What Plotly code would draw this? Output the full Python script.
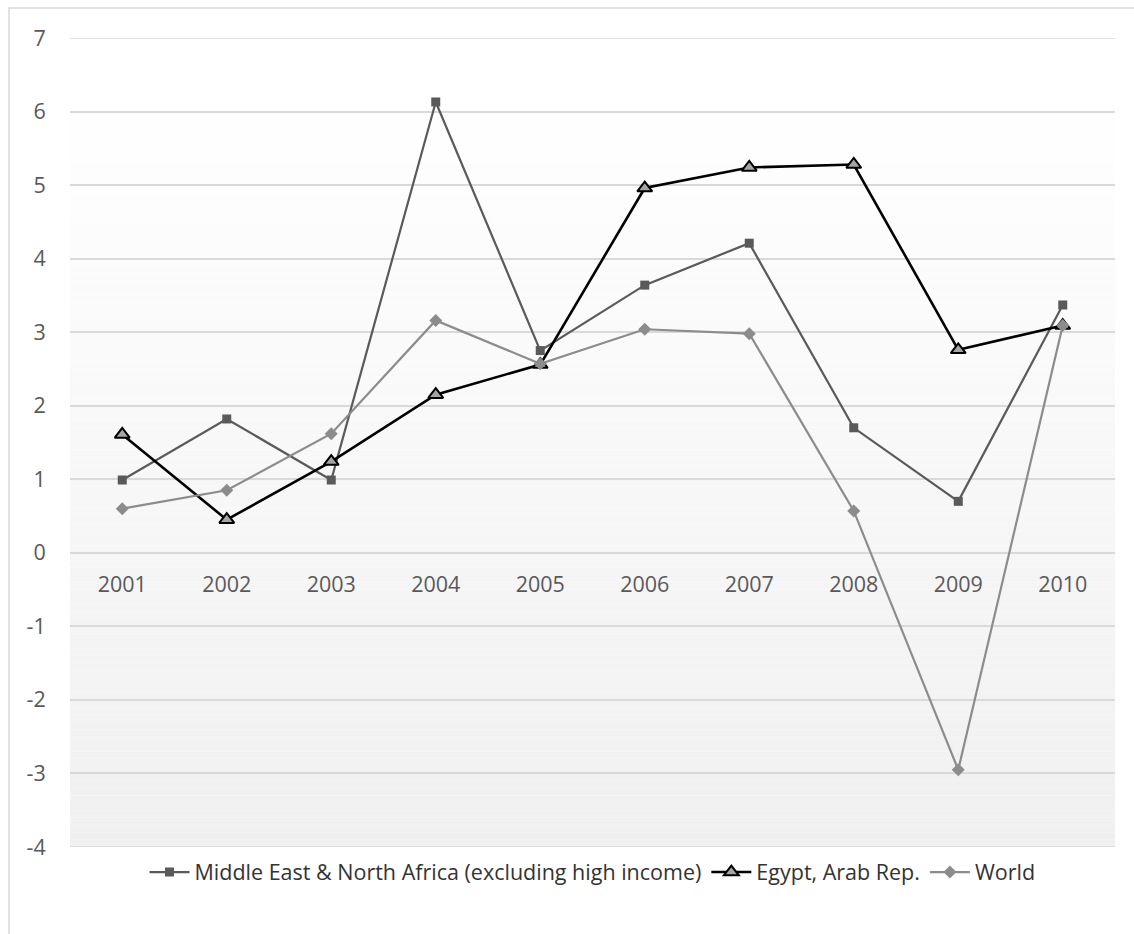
import plotly.graph_objects as go

# Annual growth figures, 2001-2010
years = ["2001", "2002", "2003", "2004", "2005", "2006", "2007", "2008", "2009", "2010"]
mena = [0.99, 1.82, 0.99, 6.13, 2.75, 3.64, 4.21, 1.70, 0.70, 3.37]
egypt = [1.61, 0.45, 1.24, 2.15, 2.56, 4.96, 5.24, 5.28, 2.76, 3.09]
world = [0.60, 0.85, 1.62, 3.16, 2.57, 3.04, 2.98, 0.57, -2.95, 3.09]

y_ticks = list(range(-4, 8))
y_tick_text = [str(v) for v in y_ticks]
y_min, y_max = -4, 7

FONT = "Open Sans"
GRID = "#d9d9d9"

fig = go.Figure()

fig.add_trace(go.Scatter(
    x=years, y=mena, mode="lines+markers",
    name="Middle East & North Africa (excluding high income)",
    line=dict(color="#5a5a5a", width=2.2),
    marker=dict(symbol="square", size=9, color="#5a5a5a"),
))
fig.add_trace(go.Scatter(
    x=years, y=egypt, mode="lines+markers",
    name="Egypt, Arab Rep.",
    line=dict(color="#000000", width=2.6),
    marker=dict(symbol="triangle-up", size=13, color="#a5a5a5",
                line=dict(color="#000000", width=2)),
))
fig.add_trace(go.Scatter(
    x=years, y=world, mode="lines+markers",
    name="World",
    line=dict(color="#8c8c8c", width=2.2),
    marker=dict(symbol="diamond", size=10, color="#8c8c8c"),
))

# vertical background gradient: white near the top, light grey at the bottom
shapes = []
steps = 110
for i in range(steps):
    y0 = y_min + (y_max - y_min) * i / steps
    y1 = y_min + (y_max - y_min) * (i + 1) / steps
    mid = (y0 + y1) / 2
    t = min(max((mid - y_min) / (6.3 - y_min), 0.0), 1.0)
    g = round(240 + 15 * t)
    shapes.append(dict(
        type="rect", xref="x domain", yref="y", x0=0, x1=1, y0=y0, y1=y1,
        fillcolor=f"rgb({g},{g},{g})", line=dict(width=0), layer="below",
    ))

# gridlines on the two range edges
for edge in (y_min, y_max):
    shapes.append(dict(
        type="line", xref="x domain", yref="y", x0=0, x1=1, y0=edge, y1=edge,
        line=dict(color=GRID, width=1.6), layer="below",
    ))

# outer chart frame
shapes.append(dict(
    type="rect", xref="paper", yref="paper",
    x0=(9 - 70) / 1045, x1=(1145 - 70) / 1045,
    y0=-0.3, y1=(847 - 8) / 809,
    line=dict(color=GRID, width=1.5), fillcolor="rgba(0,0,0,0)", layer="below",
))

fig.update_layout(
    width=1134, height=934,
    margin=dict(l=70, r=19, t=38, b=87),
    paper_bgcolor="white", plot_bgcolor="white",
    font=dict(family=FONT, size=21, color="#595959"),
    shapes=shapes,
    showlegend=True,
    legend=dict(
        orientation="h", x=0.5, xanchor="center", y=-0.031, yanchor="middle",
        font=dict(family=FONT, size=21.5, color="#333333"),
        bgcolor="rgba(0,0,0,0)", traceorder="normal", itemwidth=40,
    ),
    xaxis=dict(
        type="category", range=[-0.5, 9.5],
        anchor="free", position=(0 - y_min) / (y_max - y_min),
        showgrid=False, zeroline=False, showline=False,
        ticks="outside", ticklen=12, tickcolor="rgba(0,0,0,0)",
        tickfont=dict(family=FONT, size=21.5, color="#595959"),
    ),
    yaxis=dict(
        range=[y_min, y_max], tickvals=y_ticks, ticktext=y_tick_text,
        showgrid=True, gridcolor=GRID, gridwidth=1.6,
        zeroline=False, showline=False,
        ticks="outside", ticklen=19, tickcolor="rgba(0,0,0,0)",
        tickfont=dict(family=FONT, size=21.5, color="#595959"),
    ),
)

fig.write_html("out.html")
